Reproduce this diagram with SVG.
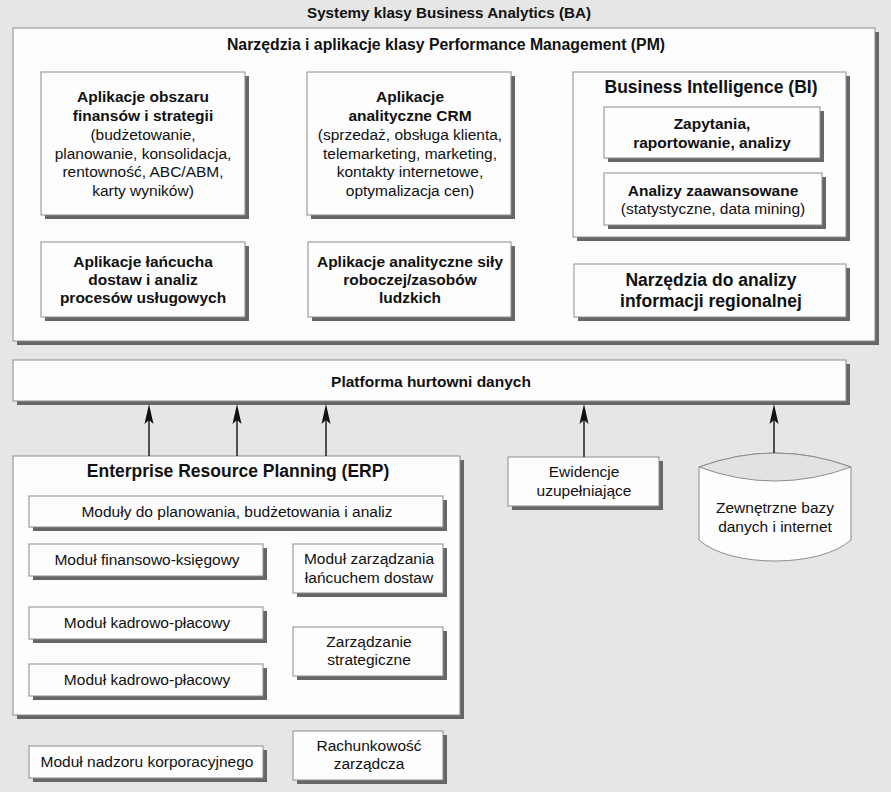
<svg xmlns="http://www.w3.org/2000/svg" width="891" height="792" viewBox="0 0 891 792">
<style>
.bg{fill:#e6e6e6}
.box{fill:#fdfdfd;stroke:#8c8c8c;stroke-width:1}
.sh{fill:#676767}
text{font-family:"Liberation Sans",Arial,sans-serif;fill:#111;text-anchor:middle}
.b{font-weight:bold;font-size:15.5px}
.r{font-size:15.5px}
.h{font-weight:bold;font-size:17.5px}
.t1{font-weight:bold;font-size:15.2px}
.t2{font-weight:bold;font-size:15.8px}
.ln{stroke:#111;stroke-width:1.4;fill:none}
.ah{fill:#111}
</style>
<rect class="bg" x="0" y="0" width="891" height="792"/>
<text class="t1" x="449" y="18">Systemy klasy Business Analytics (BA)</text>

<g id="pm">
<rect class="sh" x="17" y="32" width="862" height="313"/>
<rect class="box" x="13" y="28" width="862" height="313"/>
<text class="t2" x="446" y="50">Narzędzia i aplikacje klasy Performance Management (PM)</text>
</g>

<g id="fin">
<rect class="sh" x="45" y="76" width="204" height="143"/>
<rect class="box" x="41" y="72" width="204" height="143"/>
<text class="b" x="143" y="102">Aplikacje obszaru</text>
<text class="b" x="143" y="121">finansów i strategii</text>
<text class="r" x="143" y="140">(budżetowanie,</text>
<text class="r" x="143" y="158.5">planowanie, konsolidacja,</text>
<text class="r" x="143" y="177">rentowność, ABC/ABM,</text>
<text class="r" x="143" y="195.5">karty wyników)</text>
</g>

<g id="crm">
<rect class="sh" x="311" y="76" width="204" height="143"/>
<rect class="box" x="307" y="72" width="204" height="143"/>
<text class="b" x="410" y="102">Aplikacje</text>
<text class="b" x="410" y="121">analityczne CRM</text>
<text class="r" x="410" y="140">(sprzedaż, obsługa klienta,</text>
<text class="r" x="410" y="158.5">telemarketing, marketing,</text>
<text class="r" x="410" y="177">kontakty internetowe,</text>
<text class="r" x="410" y="195.5">optymalizacja cen)</text>
</g>

<g id="bi">
<rect class="sh" x="577" y="76" width="273" height="165"/>
<rect class="box" x="573" y="72" width="273" height="165"/>
<text class="h" x="711" y="93">Business Intelligence (BI)</text>
</g>

<g id="zapytania">
<rect class="sh" x="608" y="111" width="216" height="51"/>
<rect class="box" x="604" y="107" width="216" height="51"/>
<text class="b" x="712" y="129">Zapytania,</text>
<text class="b" x="712" y="148">raportowanie, analizy</text>
</g>

<g id="analizy">
<rect class="sh" x="608" y="177" width="218" height="52"/>
<rect class="box" x="604" y="173" width="218" height="52"/>
<text class="b" x="713" y="196">Analizy zaawansowane</text>
<text class="r" x="713" y="214">(statystyczne, data mining)</text>
</g>

<g id="lancuch">
<rect class="sh" x="45" y="246" width="204" height="75"/>
<rect class="box" x="41" y="242" width="204" height="75"/>
<text class="b" x="143" y="267">Aplikacje łańcucha</text>
<text class="b" x="143" y="285">dostaw i analiz</text>
<text class="b" x="143" y="303">procesów usługowych</text>
</g>

<g id="sily">
<rect class="sh" x="312" y="246" width="203" height="75"/>
<rect class="box" x="308" y="242" width="203" height="75"/>
<text class="b" x="410" y="267">Aplikacje analityczne siły</text>
<text class="b" x="410" y="285">roboczej/zasobów</text>
<text class="b" x="410" y="303">ludzkich</text>
</g>

<g id="regionalne">
<rect class="sh" x="578" y="268" width="272" height="53"/>
<rect class="box" x="574" y="264" width="272" height="53"/>
<text class="h" x="711" y="286">Narzędzia do analizy</text>
<text class="h" x="711" y="307">informacji regionalnej</text>
</g>

<g id="platforma">
<rect class="sh" x="17" y="364" width="833" height="41"/>
<rect class="box" x="13" y="360" width="833" height="41"/>
<text class="b" x="431" y="387">Platforma hurtowni danych</text>
</g>

<g id="erp">
<rect class="sh" x="17" y="460" width="447" height="259"/>
<rect class="box" x="13" y="456" width="447" height="259"/>
<text class="h" x="238" y="477">Enterprise Resource Planning (ERP)</text>
</g>

<g id="planowanie">
<rect class="sh" x="33" y="500" width="414" height="31"/>
<rect class="box" x="29" y="496" width="414" height="31"/>
<text class="r" x="237" y="517">Moduły do planowania, budżetowania i analiz</text>
</g>

<g id="finansowo">
<rect class="sh" x="33" y="548" width="234" height="32"/>
<rect class="box" x="29" y="544" width="234" height="32"/>
<text class="r" x="147" y="565">Moduł finansowo-księgowy</text>
</g>

<g id="lancuchem">
<rect class="sh" x="297" y="548" width="150" height="49"/>
<rect class="box" x="293" y="544" width="150" height="49"/>
<text class="r" x="369" y="564">Moduł zarządzania</text>
<text class="r" x="369" y="583">łańcuchem dostaw</text>
</g>

<g id="kadrowo1">
<rect class="sh" x="33" y="611" width="234" height="32"/>
<rect class="box" x="29" y="607" width="234" height="32"/>
<text class="r" x="147" y="628">Moduł kadrowo-płacowy</text>
</g>

<g id="strategiczne">
<rect class="sh" x="297" y="631" width="150" height="49"/>
<rect class="box" x="293" y="627" width="150" height="49"/>
<text class="r" x="369" y="647">Zarządzanie</text>
<text class="r" x="369" y="665">strategiczne</text>
</g>

<g id="kadrowo2">
<rect class="sh" x="33" y="668" width="234" height="32"/>
<rect class="box" x="29" y="664" width="234" height="32"/>
<text class="r" x="147" y="685">Moduł kadrowo-płacowy</text>
</g>

<g id="nadzor">
<rect class="sh" x="33" y="750" width="234" height="32"/>
<rect class="box" x="29" y="746" width="234" height="32"/>
<text class="r" x="147" y="767">Moduł nadzoru korporacyjnego</text>
</g>

<g id="rachunkowosc">
<rect class="sh" x="297" y="735" width="150" height="49"/>
<rect class="box" x="293" y="731" width="150" height="49"/>
<text class="r" x="369" y="751">Rachunkowość</text>
<text class="r" x="369" y="769">zarządcza</text>
</g>

<g id="ewidencje">
<rect class="sh" x="512" y="461" width="151" height="49"/>
<rect class="box" x="508" y="457" width="151" height="49"/>
<text class="r" x="584" y="477">Ewidencje</text>
<text class="r" x="584" y="496">uzupełniające</text>
</g>

<g id="zewnetrzne">
<path class="box" d="M699,467 Q775,439 851,467 L851,540 C820,568 730,568 699,540 Z"/>
<path d="M699,467 Q775,439 851,467 Q775,495 699,467 Z" fill="#e2e2e2" stroke="#8c8c8c" stroke-width="1"/>
<text class="r" x="775" y="513">Zewnętrzne bazy</text>
<text class="r" x="775" y="532">danych i internet</text>
</g>

<g id="connectors">
<line class="ln" x1="149" y1="456" x2="149" y2="418"/>
<polygon class="ah" points="149,404 153.5,424 149,420 144.5,424"/>
<line class="ln" x1="237" y1="456" x2="237" y2="418"/>
<polygon class="ah" points="237,404 241.5,424 237,420 232.5,424"/>
<line class="ln" x1="326" y1="456" x2="326" y2="418"/>
<polygon class="ah" points="326,404 330.5,424 326,420 321.5,424"/>
<line class="ln" x1="584" y1="457" x2="584" y2="418"/>
<polygon class="ah" points="584,404 588.5,424 584,420 579.5,424"/>
<line class="ln" x1="774" y1="453" x2="774" y2="418"/>
<polygon class="ah" points="774,404 778.5,424 774,420 769.5,424"/>
</g>
</svg>
